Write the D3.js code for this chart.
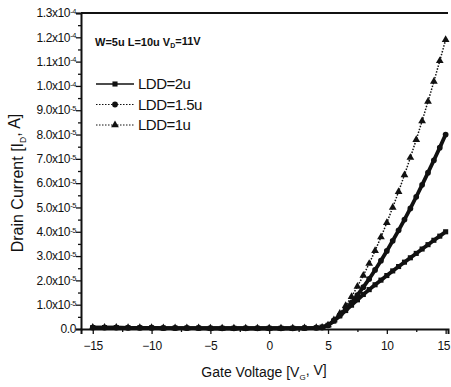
<!DOCTYPE html>
<html>
<head>
<meta charset="utf-8">
<script src="https://cdn.jsdelivr.net/npm/d3@7"></script>
<style>
  body { margin: 0; background: #fff; }
  svg { display: block; font-family: 'Liberation Sans', Arial, sans-serif; }
</style>
</head>
<body>
<div id="chart"></div>
<script>
// gate voltage sweep [V]
const gateVoltage = [-15, -14, -13, -12, -11, -10, -9, -8, -7, -6, -5, -4, -3, -2, -1, 0, 1, 2, 3, 4,
  4.5, 5, 5.5, 6, 6.5, 7, 7.5, 8, 8.5, 9, 9.5, 10, 10.5, 11, 11.5, 12, 12.5, 13, 13.5, 14, 14.5, 15];

// drain current, in units of 1e-5 A
const ldd2u = [0.06, 0.06, 0.06, 0.05, 0.05, 0.05, 0.04, 0.04, 0.04, 0.04, 0.03, 0.03, 0.03, 0.03, 0.03, 0.03, 0.03, 0.03, 0.04, 0.05,
  0.08, 0.15, 0.33, 0.54, 0.76, 0.98, 1.2, 1.42, 1.62, 1.82, 2.01, 2.2, 2.39, 2.57, 2.75, 2.93, 3.11, 3.29, 3.47, 3.65, 3.82, 4.0];
const ldd15u = [0.06, 0.06, 0.06, 0.05, 0.05, 0.05, 0.04, 0.04, 0.04, 0.04, 0.03, 0.03, 0.03, 0.03, 0.03, 0.03, 0.03, 0.03, 0.04, 0.05,
  0.06, 0.15, 0.34, 0.56, 0.81, 1.09, 1.39, 1.72, 2.06, 2.43, 2.81, 3.21, 3.63, 4.06, 4.5, 4.96, 5.44, 5.93, 6.43, 6.94, 7.46, 8.0];
const ldd1u = [0.06, 0.06, 0.06, 0.05, 0.05, 0.05, 0.04, 0.04, 0.04, 0.04, 0.03, 0.03, 0.03, 0.03, 0.03, 0.03, 0.03, 0.03, 0.04, 0.05,
  0.06, 0.16, 0.37, 0.64, 0.96, 1.33, 1.75, 2.2, 2.69, 3.22, 3.78, 4.37, 5.0, 5.65, 6.34, 7.05, 7.79, 8.56, 9.36, 10.18, 11.03, 11.9];

const xTicks = [-15, -10, -5, 0, 5, 10, 15];
const yTicks = [0, 1, 2, 3, 4, 5, 6, 7, 8, 9, 10, 11, 12, 13]; // x 1e-5 A

const seriesNames = ['LDD=2u', 'LDD=1.5u', 'LDD=1u'];

const width = 451, height = 387;
const margin = {top: 13, right: 3, bottom: 58, left: 81};

const svg = d3.select('#chart').append('svg')
  .attr('width', width)
  .attr('height', height);

const x = d3.scaleLinear().domain([-16, 15.2]).range([margin.left, width - margin.right]);
const y = d3.scaleLinear().domain([0, 1.3e-4]).range([height - margin.bottom, margin.top]);

const ink = '#111';

// frame: top border
svg.append('line')
  .attr('x1', margin.left).attr('x2', width - margin.right)
  .attr('y1', margin.top).attr('y2', margin.top)
  .attr('stroke', ink).attr('stroke-width', 2);

// x axis
const xAxis = svg.append('g')
  .attr('transform', 'translate(0,' + y(0) + ')')
  .call(d3.axisBottom(x).tickValues(xTicks).tickSize(5).tickFormat(d3.format('d')));
svg.append('g')
  .attr('transform', 'translate(0,' + y(0) + ')')
  .call(d3.axisBottom(x).tickValues(d3.range(-12.5, 15, 5)).tickSize(3).tickFormat(''))
  .call(g => g.select('.domain').remove());

// y axis
svg.append('g')
  .attr('transform', 'translate(' + margin.left + ',0)')
  .call(d3.axisLeft(y).tickValues(yTicks.map(d => d * 1e-5)).tickSize(5).tickFormat(''));
svg.append('g')
  .attr('transform', 'translate(' + margin.left + ',0)')
  .call(d3.axisLeft(y).tickValues(yTicks.slice(0, -1).map(d => (d + 0.5) * 1e-5)).tickSize(3).tickFormat(''))
  .call(g => g.select('.domain').remove());

svg.selectAll('.domain').attr('stroke', ink).attr('stroke-width', 2);
svg.selectAll('.tick line').attr('stroke', ink).attr('stroke-width', 1.3);

xAxis.selectAll('.tick text')
  .attr('font-size', 12)
  .attr('letter-spacing', '-0.3px')
  .attr('fill', ink)
  .attr('dy', '1.05em');
// last label sits against the right edge of the page
xAxis.selectAll('.tick text').filter(d => d === 15)
  .attr('text-anchor', 'end')
  .attr('x', 4);

// y tick labels like 1.3x10^-4
const yLab = svg.append('g')
  .attr('font-size', 12)
  .attr('letter-spacing', '-0.4px')
  .attr('fill', ink)
  .attr('text-anchor', 'end');
yTicks.forEach(k => {
  const t = yLab.append('text')
    .attr('x', margin.left - 5)
    .attr('y', y(k * 1e-5))
    .attr('dy', '0.35em');
  if (k === 0) {
    t.text('0.0');
    return;
  }
  const mant = k < 10 ? k.toFixed(1) : (k / 10).toFixed(1);
  const exp = k < 10 ? '-5' : '-4';
  t.append('tspan').text(mant + 'x10');
  t.append('tspan').attr('dy', '-0.45em').attr('font-size', 7.5).text(exp);
});

// axis titles
const xTitle = svg.append('text')
  .attr('x', 264).attr('y', 377)
  .attr('text-anchor', 'middle')
  .attr('font-size', 14)
  .attr('fill', ink);
xTitle.append('tspan').text('Gate Voltage [V');
xTitle.append('tspan').attr('font-size', 8).attr('dy', '0.35em').text('G');
xTitle.append('tspan').attr('dy', '-0.35em').text(', V]');

const yTitle = svg.append('text')
  .attr('transform', 'translate(23,183) rotate(-90)')
  .attr('text-anchor', 'middle')
  .attr('font-size', 16)
  .attr('fill', ink);
yTitle.append('tspan').text('Drain Current [I');
yTitle.append('tspan').attr('font-size', 8.5).attr('dy', '0.35em').text('D');
yTitle.append('tspan').attr('dy', '-0.35em').text(', A]');

// condition note
const note = svg.append('text')
  .attr('x', 95).attr('y', 46)
  .attr('font-size', 11)
  .attr('font-weight', 'bold')
  .attr('fill', ink);
note.append('tspan').text('W=5u L=10u V');
note.append('tspan').attr('font-size', 7).attr('dy', '0.35em').text('D');
note.append('tspan').attr('dy', '-0.35em').text('=11V');

// series
const series = [
  {name: seriesNames[0], values: ldd2u, dash: null, width: 3.8, symbol: d3.symbolSquare, size: 26},
  {name: seriesNames[1], values: ldd15u, dash: null, width: 3.8, symbol: d3.symbolCircle, size: 26},
  {name: seriesNames[2], values: ldd1u, dash: '1.5,1.5', width: 1.5, symbol: d3.symbolTriangle, size: 26}
];

const line = d3.line()
  .x((d, i) => x(gateVoltage[i]))
  .y(d => y(d * 1e-5));

series.forEach(s => {
  svg.append('path')
    .datum(s.values)
    .attr('d', line)
    .attr('fill', 'none')
    .attr('stroke', ink)
    .attr('stroke-width', s.width)
    .attr('stroke-dasharray', s.dash);

  svg.append('g').selectAll('path')
    .data(s.values)
    .enter().append('path')
    .attr('d', d3.symbol().type(s.symbol).size(s.size))
    .attr('transform', (d, i) => 'translate(' + x(gateVoltage[i]) + ',' + y(d * 1e-5) + ')')
    .attr('fill', ink);
});

// legend
const legend = svg.append('g')
  .attr('font-size', 15)
  .attr('letter-spacing', '-0.5px')
  .attr('fill', ink);
const legendDash = [null, '1.5,1.5', '1.5,1.5'];
series.forEach((s, i) => {
  const ly = 84 + i * 20.5;
  legend.append('line')
    .attr('x1', 96).attr('x2', 134)
    .attr('y1', ly).attr('y2', ly)
    .attr('stroke', ink)
    .attr('stroke-width', i === 0 ? 1.5 : 1)
    .attr('stroke-dasharray', legendDash[i]);
  legend.append('path')
    .attr('d', d3.symbol().type(s.symbol).size(26))
    .attr('transform', 'translate(115,' + ly + ')')
    .attr('fill', ink);
  legend.append('text')
    .attr('x', 138).attr('y', ly)
    .attr('dy', '0.36em')
    .text(s.name);
});
</script>
</body>
</html>
